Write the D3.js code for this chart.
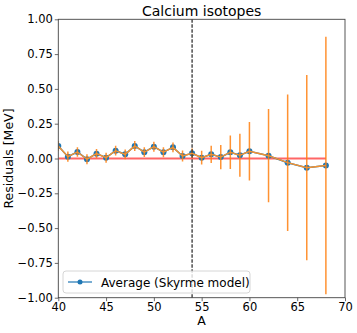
<!DOCTYPE html>
<html>
<head>
<meta charset="utf-8">
<script src="https://cdn.jsdelivr.net/npm/d3@7"></script>
<style>
  body { margin: 0; background: #fff; }
  text { font-family: "DejaVu Sans", sans-serif; }
</style>
</head>
<body>
<svg width="357" height="333"></svg>
<script>
// data
var massNumbers = [40, 41, 42, 43, 44, 45, 46, 47, 48, 49, 50, 51, 52, 53, 54,
                   55, 56, 57, 58, 59, 60, 62, 64, 66, 68];
var residuals = [0.09, 0.013, 0.047, -0.005, 0.035, 0.006, 0.056, 0.03, 0.09, 0.045, 0.085, 0.045, 0.08, 0.018, 0.037,
                 0.006, 0.03, 0.01, 0.045, 0.023, 0.052, 0.02, -0.03, -0.066, -0.05];
var errors = [0.035, 0.037, 0.034, 0.036, 0.034, 0.036, 0.035, 0.035, 0.036, 0.035, 0.036, 0.036, 0.035, 0.04, 0.035,
              0.05, 0.062, 0.087, 0.12, 0.155, 0.21, 0.335, 0.49, 0.665, 0.925];
var xTicks = [40, 45, 50, 55, 60, 65, 70];
var yTicks = [-1, -0.75, -0.5, -0.25, 0, 0.25, 0.5, 0.75, 1];
var splitA = 54;
var legendLabel = 'Average (Skyrme model)';

// plot box (top is a reserved window prop, so use other names)
var pL = 58.3, pR = 345, pT = 19.3, pB = 297.7;

var svg = d3.select('svg');

var x = d3.scaleLinear().domain([40, 70]).range([pL, pR]);
var y = d3.scaleLinear().domain([-1, 1]).range([pB, pT]);

var fmt = function(d) { return d3.format('.2f')(d).replace('-', '\u2212'); };

// clip so points at A=40 get cut at the frame
svg.append('clipPath').attr('id', 'clip')
    .append('rect')
    .attr('x', pL).attr('y', pT)
    .attr('width', pR - pL).attr('height', pB - pT);

var plot = svg.append('g').attr('clip-path', 'url(#clip)');

// reference line at zero
plot.append('line')
    .attr('x1', x(40)).attr('x2', x(68))
    .attr('y1', y(0)).attr('y2', y(0))
    .style('stroke', '#ff0000')
    .style('stroke-opacity', 0.6)
    .style('stroke-width', 2);

// blue line + markers
var line = d3.line().x(function(d, i) { return x(massNumbers[i]); })
    .y(function(d) { return y(d); });

plot.append('path')
    .datum(residuals)
    .attr('d', line)
    .style('fill', 'none')
    .style('stroke', '#1f77b4')
    .style('stroke-width', 1.5);

plot.selectAll('circle.pt')
    .data(residuals)
    .enter()
    .append('circle')
    .attr('class', 'pt')
    .attr('cx', function(d, i) { return x(massNumbers[i]); })
    .attr('cy', function(d) { return y(d); })
    .attr('r', 3)
    .style('fill', '#1f77b4');

// orange error bars and line on top
plot.selectAll('line.err')
    .data(residuals)
    .enter()
    .append('line')
    .attr('class', 'err')
    .attr('x1', function(d, i) { return x(massNumbers[i]); })
    .attr('x2', function(d, i) { return x(massNumbers[i]); })
    .attr('y1', function(d, i) { return y(d + errors[i]); })
    .attr('y2', function(d, i) { return y(d - errors[i]); })
    .style('stroke', '#ff7f0e')
    .style('stroke-opacity', 0.85)
    .style('stroke-width', 1.5);

plot.append('path')
    .datum(residuals)
    .attr('d', line)
    .style('fill', 'none')
    .style('stroke', '#f5922f')
    .style('stroke-width', 1.4);

// dashed split line
svg.append('line')
    .attr('x1', x(splitA)).attr('x2', x(splitA))
    .attr('y1', pT).attr('y2', pB)
    .style('stroke', '#333')
    .style('stroke-width', 1.3)
    .style('stroke-dasharray', '3.5,1.5');

// frame
svg.append('rect')
    .attr('x', pL).attr('y', pT)
    .attr('width', pR - pL).attr('height', pB - pT)
    .style('fill', 'none')
    .style('stroke', '#444')
    .style('stroke-width', 0.9);

// axes
var xAxis = svg.append('g')
    .attr('transform', 'translate(0,' + pB + ')')
    .call(d3.axisBottom(x).tickValues(xTicks).tickSize(3.5).tickPadding(2).tickFormat(d3.format('d')));

var yAxis = svg.append('g')
    .attr('transform', 'translate(' + pL + ',0)')
    .call(d3.axisLeft(y).tickValues(yTicks).tickSize(3.5).tickPadding(2).tickFormat(fmt));

[xAxis, yAxis].forEach(function(a) {
    a.select('.domain').remove();
    a.selectAll('text').style('font-size', '11.5px').style('fill', '#000')
        .style('font-family', '"DejaVu Sans", sans-serif');
    a.selectAll('line').style('stroke', '#444').style('stroke-width', 0.8);
});

// title and labels
svg.append('text')
    .text('Calcium isotopes')
    .attr('x', (pL + pR) / 2)
    .attr('y', 16)
    .attr('text-anchor', 'middle')
    .style('font-size', '14px');

svg.append('text')
    .text('A')
    .attr('x', (pL + pR) / 2)
    .attr('y', 325)
    .attr('text-anchor', 'middle')
    .style('font-size', '12.5px');

svg.append('text')
    .text('Residuals [MeV]')
    .attr('transform', 'translate(13,' + ((pT + pB) / 2) + ') rotate(-90)')
    .attr('text-anchor', 'middle')
    .style('font-size', '12.5px');

// legend
var lg = svg.append('g').attr('transform', 'translate(63,271)');
lg.append('rect')
    .attr('width', 187).attr('height', 22)
    .attr('rx', 3)
    .style('fill', '#fff')
    .style('fill-opacity', 0.8)
    .style('stroke', '#ccc')
    .style('stroke-width', 0.8);
lg.append('line')
    .attr('x1', 5).attr('x2', 29)
    .attr('y1', 11).attr('y2', 11)
    .style('stroke', '#1f77b4')
    .style('stroke-opacity', 0.6)
    .style('stroke-width', 2);
lg.append('circle')
    .attr('cx', 17).attr('cy', 11).attr('r', 2.5)
    .style('fill', '#1f77b4');
lg.append('text')
    .text(legendLabel)
    .attr('x', 38).attr('y', 15.5)
    .style('font-size', '12px');
</script>
</body>
</html>
